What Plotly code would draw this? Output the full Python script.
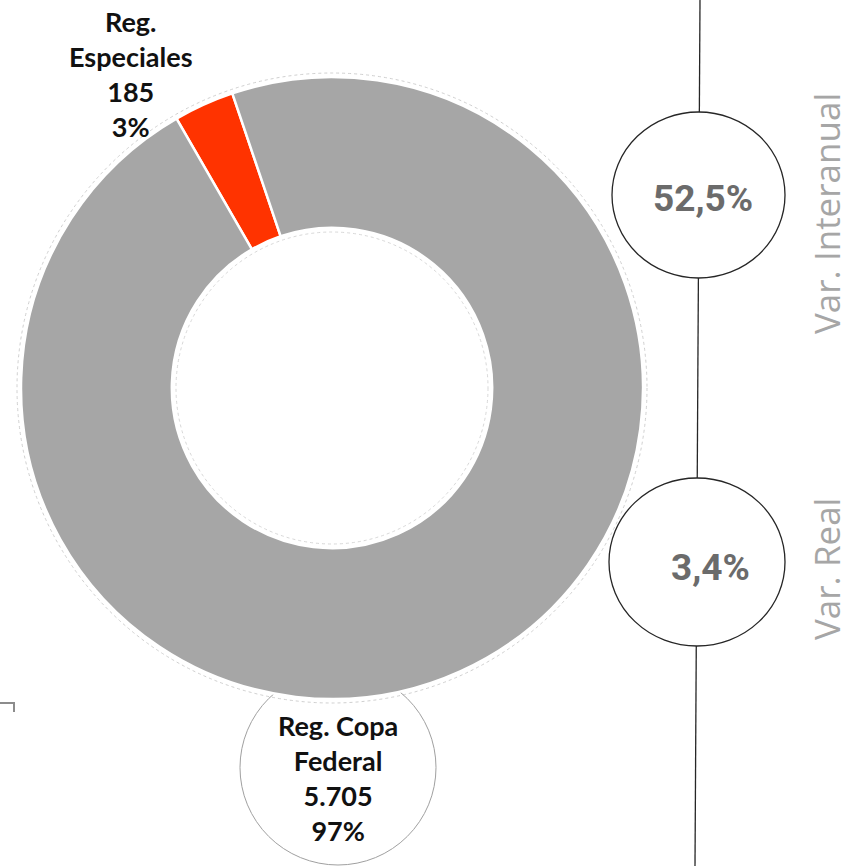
import plotly.graph_objects as go

# ---- data ----
categories = ["Reg. Especiales", "Reg. Copa Federal"]
values = [185, 5705]
value_labels = ["185", "5.705"]
pct_labels = ["3%", "97%"]
colors = ["#ff3300", "#a6a6a6"]

var_names = ["Var. Interanual", "Var. Real"]
var_values = ["52,5%", "3,4%"]

W, H = 851, 866
cx, cy, R = 332, 388, 311

fig = go.Figure()
fig.add_trace(go.Pie(
    labels=categories, values=values, hole=0.515, sort=False,
    direction="clockwise", rotation=330,
    marker=dict(colors=colors, line=dict(color="white", width=2.5)),
    textinfo="none", hoverinfo="label+value+percent", showlegend=False,
    domain=dict(x=[(cx - R) / W, (cx + R) / W], y=[1 - (cy + R) / H, 1 - (cy - R) / H]),
))

# invisible pixel axes
fig.update_layout(
    width=W, height=H, margin=dict(l=0, r=0, t=0, b=0),
    paper_bgcolor="white", plot_bgcolor="rgba(0,0,0,0)",
    xaxis=dict(range=[0, W], visible=False, fixedrange=True),
    yaxis=dict(range=[H, 0], visible=False, fixedrange=True),
)

shapes = []
# faint outline rings around donut
shapes.append(dict(type="circle", xref="x", yref="y", x0=cx - R - 4, x1=cx + R + 4, y0=cy - R - 4, y1=cy + R + 4,
                   line=dict(color="#d0d0d0", width=1, dash="dot"), layer="below"))
shapes.append(dict(type="circle", xref="x", yref="y", x0=cx - 156, x1=cx + 156, y0=cy - 156, y1=cy + 156,
                   line=dict(color="#d8d8d8", width=1, dash="dot"), layer="above"))
# label circle bottom
shapes.append(dict(type="circle", xref="x", yref="y", x0=240, x1=436, y0=670, y1=865,
                   line=dict(color="#a0a0a0", width=1), fillcolor="rgba(0,0,0,0)", layer="below"))
# vertical line
shapes.append(dict(type="line", xref="x", yref="y", x0=700, y0=0, x1=695, y1=866,
                   line=dict(color="#262626", width=1.3)))
# variation circles
shapes.append(dict(type="circle", xref="x", yref="y", x0=612, x1=785, y0=112, y1=278,
                   line=dict(color="#262626", width=1.3), fillcolor="white"))
shapes.append(dict(type="circle", xref="x", yref="y", x0=609, x1=785, y0=478, y1=646,
                   line=dict(color="#262626", width=1.3), fillcolor="white"))
# small bracket at left
shapes.append(dict(type="path", xref="x", yref="y", path="M 0 703 L 14 703 L 14 712",
                   line=dict(color="#8c8c8c", width=2)))
fig.update_layout(shapes=shapes)

lab_font = dict(family="Lato, 'Open Sans', sans-serif", size=27, color="#111111")
ann = []
ann.append(dict(x=131, y=74, xref="x", yref="y", showarrow=False,
                text="<b>Reg.<br>Especiales<br>%s<br>%s</b>" % (value_labels[0], pct_labels[0]),
                font=lab_font, align="center", yanchor="middle"))
ann.append(dict(x=338, y=778, xref="x", yref="y", showarrow=False,
                text="<b>Reg. Copa<br>Federal<br>%s<br>%s</b>" % (value_labels[1], pct_labels[1]),
                font=lab_font, align="center", yanchor="middle"))
val_font = dict(family="Roboto, Arial, sans-serif", size=37, color="#6b6b6b")
ann.append(dict(x=703, y=198, xref="x", yref="y", showarrow=False,
                text="<b>%s</b>" % var_values[0], font=val_font))
ann.append(dict(x=710, y=567, xref="x", yref="y", showarrow=False,
                text="<b>%s</b>" % var_values[1], font=val_font))
name_font = dict(family="'Open Sans', sans-serif", size=35, color="#a6a6a6")
ann.append(dict(x=826, y=214, xref="x", yref="y", showarrow=False, textangle=-90,
                text=var_names[0], font=name_font))
ann.append(dict(x=826, y=569, xref="x", yref="y", showarrow=False, textangle=-90,
                text=var_names[1], font=name_font))
fig.update_layout(annotations=ann)

fig.write_html("out.html", config={"displayModeBar": False},
               post_script="document.body.style.margin='0';document.body.style.overflow='hidden';")
